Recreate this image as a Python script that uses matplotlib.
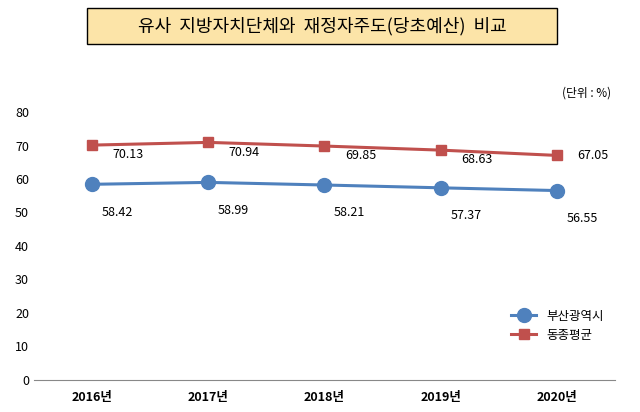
import matplotlib
matplotlib.use("Agg")
import matplotlib.pyplot as plt
from matplotlib.patches import Rectangle

plt.rcParams["font.family"] = ["Noto Sans CJK JP", "Noto Sans CJK KR", "Noto Sans CJK SC", "DejaVu Sans"]

years = ["2016년", "2017년", "2018년", "2019년", "2020년"]
busan = [58.42, 58.99, 58.21, 57.37, 56.55]
peer = [70.13, 70.94, 69.85, 68.63, 67.05]
yticks = [0, 10, 20, 30, 40, 50, 60, 70, 80]

fig = plt.figure(figsize=(6.4, 4.12), dpi=100)
ax = fig.add_axes([0.053, 0.078, 0.908, 0.65])
x = list(range(len(years)))
ax.plot(x, busan, color="#4F81BD", lw=2.2, marker="o", ms=10, label="부산광역시")
ax.plot(x, peer, color="#C0504D", lw=2.2, marker="s", ms=7, label="동종평균")
for i in x:
    ax.annotate(f"{busan[i]:.2f}", (i, busan[i]), xytext=(18, -20), textcoords="offset points",
                ha="center", va="center", fontsize=9)
    ax.annotate(f"{peer[i]:.2f}", (i, peer[i]), xytext=(26, -7 if i < 4 else 0), textcoords="offset points",
                ha="center", va="center", fontsize=9)
ax.set_xlim(-0.5, 4.5)
ax.set_ylim(0, 80)
ax.set_yticks(yticks)
ax.set_xticks(x)
ax.set_xticklabels(years, fontsize=9, fontweight="bold")
ax.tick_params(axis="y", labelsize=9, length=0)
ax.tick_params(axis="x", length=0, pad=8)
for s in ["top", "right", "left"]:
    ax.spines[s].set_visible(False)
ax.spines["bottom"].set_color("#888888")
ax.legend(loc="lower right", bbox_to_anchor=(1.0, 0.1), frameon=False, fontsize=9)

fig.text(0.955, 0.775, "(단위 : %)", ha="right", va="center", fontsize=8.5)
fig.patches.append(Rectangle((87/640, 1-44/412), 470/640, 36/412, transform=fig.transFigure,
                             facecolor="#FCE4A8", edgecolor="black", lw=1))
fig.text(322/640, 1-26/412, "유사  지방자치단체와  재정자주도(당초예산)  비교",
         ha="center", va="center", fontsize=13)
fig.savefig("out.png", dpi=100)
